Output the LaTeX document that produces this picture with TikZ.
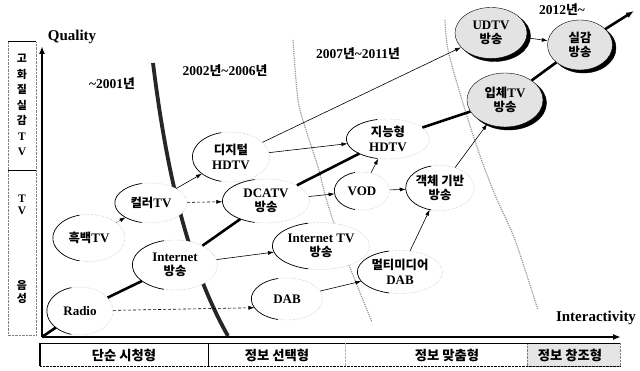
\documentclass[tikz,border=0pt]{standalone}
\usepackage{fontspec}
\setmainfont{Liberation Serif}
\newfontfamily\kr{Noto Sans CJK KR}[Scale=0.95]
\newcommand\ko[1]{{\kr #1}}
\usetikzlibrary{shapes.geometric,shadows,arrows.meta,calc}
\tikzset{
  stage/.style={ellipse, draw=gray!70, densely dotted, fill=white, inner sep=0pt, align=center, font=\bfseries\fontsize{13}{14.5}\selectfont},
  future/.style={stage, solid, draw=black, fill=gray!22, copy shadow={shadow xshift=3.5pt, shadow yshift=-3pt, fill=black, draw=black}},
  rim/.style={black, solid, line width=0.7pt},
  trend/.style={line width=2.6pt},
  link/.style={-{Latex[length=6pt,width=4pt]}, line width=0.6pt},
  era/.style={gray!80, densely dotted, line width=1.2pt},
  lbl/.style={font=\bfseries\fontsize{13.5}{15}\selectfont},
  axislbl/.style={font=\bfseries\fontsize{15}{17}\selectfont},
  band/.style={font=\bfseries\fontsize{14}{15}\kr},
  side/.style={font=\bfseries\fontsize{11.5}{15.5}\kr, align=center},
}
\begin{document}
\begin{tikzpicture}[x=1pt,y=-1pt]
\useasboundingbox (0,0) rectangle (640,371);
% left column
\draw[gray, densely dotted] (8,42) -- (8,335) -- (36,335) -- (36,42);
\draw[semithick] (8,41) -- (36,41);
\draw[semithick] (8,170) -- (36,170);
\node[side] (sq) at (22,105) {고\\화\\질\\실\\감\\\rmfamily T\\\rmfamily V};
\node[side] (st) at (22,205) {\rmfamily T\\[-4pt]\rmfamily V};
\node[side] (sa) at (22,292) {음\\[-3pt]성};
% era borders
\draw[line width=3.8pt, black!85] (153,63) .. controls (165,160) and (185,260) .. (228,336);
\draw[era] plot[smooth] coordinates {(293,40) (298,100) (307,133) (318,167) (328,205) (347,260) (372,322)};
\draw[era] plot[smooth] coordinates {(445,20) (448,50) (462,100) (478,150) (495,195) (515,240) (538,310)};
\node[lbl] (y1) at (112,84) {\textasciitilde 2001\ko{년}};
\node[lbl] (y2) at (225,71) {2002\ko{년}\textasciitilde 2006\ko{년}};
\node[lbl] (y3) at (358,54) {2007\ko{년}\textasciitilde 2011\ko{년}};
\node[lbl] (y4) at (562,10) {2012\ko{년}\textasciitilde};
% axes
\coordinate (O) at (42,337);
\coordinate (qtop) at (42,46);
\coordinate (iend) at (621,337);
\coordinate (tend) at (634,11);
\draw[line width=2.2pt, -{Latex[length=8pt,width=6pt]}] (O) -- (qtop);
\draw[line width=2pt, -{Latex[length=8pt,width=6pt]}] (O) -- (iend);
\node[axislbl] (ql) at (72,37) {Quality};
\node[axislbl] (il) at (596,318) {Interactivity};
% bottom band
\fill[gray!20] (527,343) rectangle (620,366);
\draw[gray, densely dotted] (527,343) rectangle (620,366);
\draw[thin] (40,343) -- (620,343);
\draw[line width=1.2pt] (40,343) -- (40,366);
\draw[line width=1pt] (208,343) -- (208,366);
\draw[gray!60, densely dotted] (345,343) -- (345,366);
\draw[densely dotted] (40,366) -- (620,366);
\node[band] (b1) at (124,355) {단순 시청형};
\node[band] (b2) at (277,355) {정보 선택형};
\node[band] (b3) at (447,355) {정보 맞춤형};
\node[band] (b4) at (570,355) {정보 창조형};
% services
\node[stage, minimum width=72, minimum height=47] (bw) at (89,238) {\ko{흑백}TV};
\node[stage, minimum width=72, minimum height=40] (color) at (151,203) {\ko{컬러}TV};
\node[stage, minimum width=85, minimum height=50] (inet) at (175,265) {Internet\\\ko{방송}};
\node[stage, minimum width=66, minimum height=48] (radio) at (80,311) {Radio};
\node[stage, minimum width=77, minimum height=50] (dhdtv) at (231,157) {\ko{디지털}\\HDTV};
\node[stage, minimum width=87, minimum height=44] (dcatv) at (266,201) {DCATV\\\ko{방송}};
\node[stage, minimum width=97, minimum height=47] (itv) at (321,246) {Internet TV\\\ko{방송}};
\node[stage, minimum width=71, minimum height=42] (dab) at (287,299) {DAB};
\node[stage, minimum width=55, minimum height=38] (vod) at (362,191) {VOD};
\node[stage, minimum width=83, minimum height=40] (ihdtv) at (388,139) {\ko{지능형}\\HDTV};
\node[stage, minimum width=65, minimum height=45] (obj) at (440,188) {\ko{객체 기반}\\\ko{방송}};
\node[stage, minimum width=85, minimum height=43] (mdab) at (400,272) {\ko{멀티미디어}\\DAB};
\node[future, minimum width=72, minimum height=51] (udtv) at (491,33) {UDTV\\\ko{방송}};
\node[future, minimum width=65, minimum height=50] (real) at (580,45) {\ko{실감}\\\ko{방송}};
\node[future, minimum width=76, minimum height=54] (stereo) at (505,100) {\ko{입체}TV\\\ko{방송}};
% solid left rims
\foreach \nd in {bw,color,inet,radio,dhdtv,dcatv,itv,dab,vod,ihdtv,obj,mdab}
  \draw[rim] let \p1=(\nd.east), \p2=(\nd.north), \p3=(\nd.center), \n1={\x1-\x3}, \n2={\y2-\y3} in
    ([shift={(105:\n1 and \n2)}]\nd.center) arc[start angle=105, end angle=255, x radius=\n1, y radius=\n2];
% main trend
\draw[trend] (O) -- (radio);
\draw[trend] (radio) -- (inet);
\draw[trend] (inet) -- (dcatv);
\draw[trend] (dcatv) -- (ihdtv);
\draw[trend] (ihdtv) -- (stereo);
\draw[trend] (stereo) -- (real);
\draw[trend, -{Latex[length=8pt,width=6pt]}] (real) -- (tend);
% evolution arrows
\draw[link, densely dotted] (bw) -- (color);
\draw[link] (color) -- (dhdtv);
\draw[link, densely dashed] (color) -- (dcatv);
\draw[link] (inet) -- (itv);
\draw[link, densely dashed] (radio) -- (dab.195);
\draw[link] (dab) -- (mdab);
\draw[link] (dhdtv) -- (ihdtv);
\draw[link] (dhdtv.25) -- (udtv);
\draw[link] (dcatv) -- (vod);
\draw[link] (vod) -- (ihdtv);
\draw[link] (vod) -- (obj);
\draw[link] (mdab) -- (obj);
\draw[link] (obj) -- (stereo);
\draw[link] (udtv) -- (real);
\end{tikzpicture}
\end{document}
